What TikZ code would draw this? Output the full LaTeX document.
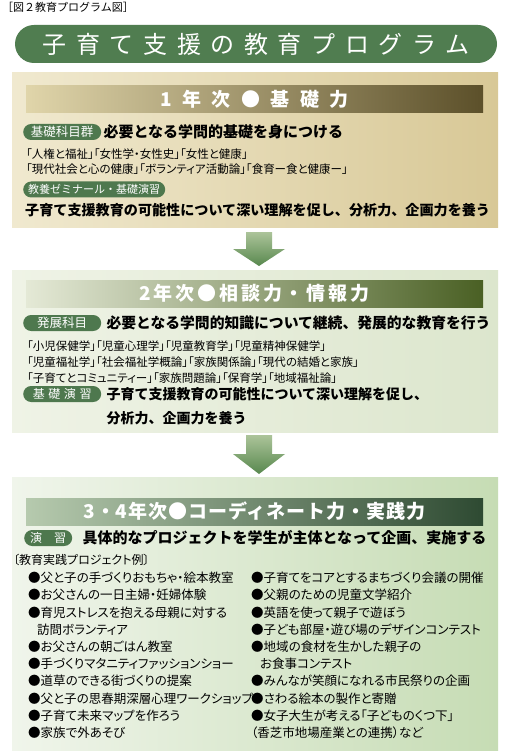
\documentclass[tikz,border=0pt]{standalone}
\usepackage{fontspec}
\setmainfont{Noto Sans CJK JP}
\newfontfamily\jpprop[RawFeature=+palt]{Noto Sans CJK JP}
\usepackage{tikz}
\usetikzlibrary{positioning}
\definecolor{pillgreen}{RGB}{80,125,80}
\definecolor{tagreen}{RGB}{78,120,78}
\definecolor{creamL}{RGB}{240,233,207}
\definecolor{creamR}{RGB}{216,200,150}
\definecolor{barAL}{RGB}{224,213,170}
\definecolor{barAR}{RGB}{92,80,42}
\definecolor{mintL}{RGB}{239,243,230}
\definecolor{mintR}{RGB}{220,230,205}
\definecolor{barBL}{RGB}{228,233,214}
\definecolor{barBR}{RGB}{74,96,36}
\definecolor{sageL}{RGB}{240,245,235}
\definecolor{sageR}{RGB}{198,220,180}
\definecolor{barCL}{RGB}{182,202,174}
\definecolor{barCR}{RGB}{46,74,50}
\definecolor{arrowtop}{RGB}{172,196,154}
\definecolor{arrowbot}{RGB}{88,136,78}

\begin{document}
\begin{tikzpicture}[
  x=1pt,y=-1pt,
  panel/.style={
    minimum width=486pt,
    inner sep=0pt
  },
  yearbar/.style={
    minimum width=457pt,
    minimum height=27pt,
    inner sep=0pt,
    text=white
  },
  tag/.style={
    fill=tagreen,
    text=white,
    rounded corners=8pt,
    minimum height=16pt,
    inner sep=0pt,
    anchor=west
  },
  lead/.style={
    font=\bfseries\fontsize{15}{15}\selectfont,
    inner sep=0pt,
    anchor=west
  },
  course/.style={
    font=\jpprop\fontsize{11.5}{11.5}\selectfont,
    inner sep=0pt,
    anchor=west
  },
  items/.style={
    font=\jpprop\fontsize{12.5}{17.2}\selectfont,
    align=left,
    inner sep=0pt,
    anchor=north west
  },
  blockarrow/.style={top color=arrowtop,bottom color=arrowbot}
]
\path[use as bounding box,fill=white] (0,0) rectangle (509,751);

\node[anchor=north west,inner sep=0pt,font=\fontsize{11}{11}\selectfont]
  (caption) at (2,2) {［図２教育プログラム図］};

\node[fill=pillgreen,rounded corners=19pt,minimum width=482pt,
  minimum height=38pt,text=white,
  font=\addfontfeatures{LetterSpace=40}\fontsize{24}{24}\selectfont]
  (title) at (256,44) {子育て支援の教育プログラム};

% 1st year
\node[panel,left color=creamL,right color=creamR,minimum height=154pt]
  (sec1) at (255,150) {};
\node[yearbar,left color=barAL,right color=barAR,
  font=\addfontfeatures{LetterSpace=55}\bfseries\fontsize{19}{19}\selectfont]
  (bar1) at (254.5,99.5) {1年次●基礎力};

\node[tag,minimum width=78pt,font=\fontsize{12.5}{12.5}\selectfont]
  (tagA) at (23,132) {基礎科目群};
\node[lead,right=2pt of tagA] (leadA) {必要となる学問的基礎を身につける};
\node[course] (courseA1) at (26,154) {「人権と福祉」「女性学・女性史」「女性と健康」};
\node[course] (courseA2) at (26,169) {「現代社会と心の健康」「ボランティア活動論」「食育ー食と健康ー」};

\node[tag,inner xsep=5pt,font=\fontsize{11}{11}\selectfont]
  (tagB) at (23,189.5) {教養ゼミナール・基礎演習};
\node[lead,font=\bfseries\fontsize{14.1}{14.1}\selectfont]
  (leadB) at (25,210) {子育て支援教育の可能性について深い理解を促し、分析力、企画力を養う};

\shade[blockarrow,shift={(259,232)}]
  (-13,0) -- (13,0) -- (13,17) -- (26,17) -- (0,34) -- (-26,17) -- (-13,17) -- cycle;

% 2nd year
\node[panel,left color=mintL,right color=mintR,minimum height=162pt]
  (sec2) at (255,351) {};
\node[yearbar,left color=barBL,right color=barBR,
  font=\addfontfeatures{LetterSpace=15}\bfseries\fontsize{19}{19}\selectfont]
  (bar2) at (254.5,293.5) {2年次●相談力・情報力};

\node[tag,minimum width=78pt,font=\fontsize{12.5}{12.5}\selectfont]
  (tagC) at (23,323) {発展科目};
\node[lead,right=5pt of tagC,font=\bfseries\fontsize{14.8}{14.8}\selectfont]
  (leadC) {必要となる学問的知識について継続、発展的な教育を行う};
\node[course] (courseC1) at (27,346) {「小児保健学」「児童心理学」「児童教育学」「児童精神保健学」};
\node[course] (courseC2) at (27,362) {「児童福祉学」「社会福祉学概論」「家族関係論」「現代の結婚と家族」};
\node[course] (courseC3) at (27,378) {「子育てとコミュニティー」「家族問題論」「保育学」「地域福祉論」};

\node[tag,minimum width=78pt,
  font=\addfontfeatures{LetterSpace=30}\fontsize{12}{12}\selectfont]
  (tagD) at (23,394) {基礎演習};
\node[lead,right=5pt of tagD,font=\bfseries\fontsize{14}{14}\selectfont]
  (leadD) {子育て支援教育の可能性について深い理解を促し、};
\node[lead,font=\bfseries\fontsize{14}{14}\selectfont]
  (leadD2) at ([yshift=-24pt]leadD.west) {分析力、企画力を養う};

\shade[blockarrow,shift={(259,435)}]
  (-13,0) -- (13,0) -- (13,19) -- (26,19) -- (0,39) -- (-26,19) -- (-13,19) -- cycle;

% 3rd and 4th year
\node[panel,left color=sageL,right color=sageR,minimum height=273pt]
  (sec3) at (255,613.5) {};
\node[yearbar,left color=barCL,right color=barCR,
  font=\addfontfeatures{LetterSpace=5}\bfseries\fontsize{19}{19}\selectfont]
  (bar3) at (254.5,511.5) {3・4年次●コーディネート力・実践力};

\node[tag,minimum width=48pt,font=\fontsize{12}{12}\selectfont]
  (tagE) at (24,538) {演　習};
\node[lead,right=10pt of tagE] (leadE) {具体的なプロジェクトを学生が主体となって企画、実施する};
\node[course,font=\jpprop\fontsize{12}{12}\selectfont]
  (examples) at (13,560) {〔教育実践プロジェクト例〕};

\node[items] (listL) at (28,572) {%
  ●父と子の手づくりおもちゃ・絵本教室\\
  ●お父さんの一日主婦・妊婦体験\\
  ●育児ストレスを抱える母親に対する\\
  \hspace{9pt}訪問ボランティア\\
  ●お父さんの朝ごはん教室\\
  ●手づくりマタニティファッションショー\\
  ●道草のできる街づくりの提案\\
  ●父と子の思春期深層心理ワークショップ\\
  ●子育て未来マップを作ろう\\
  ●家族で外あそび};
\node[items] (listR) at (251,572) {%
  ●子育てをコアとするまちづくり会議の開催\\
  ●父親のための児童文学紹介\\
  ●英語を使って親子で遊ぼう\\
  ●子ども部屋・遊び場のデザインコンテスト\\
  ●地域の食材を生かした親子の\\
  \hspace{9pt}お食事コンテスト\\
  ●みんなが笑顔になれる市民祭りの企画\\
  ●さわる絵本の製作と寄贈\\
  ●女子大生が考える「子どものくつ下」\\
  （香芝市地場産業との連携）など};
\end{tikzpicture}
\end{document}
